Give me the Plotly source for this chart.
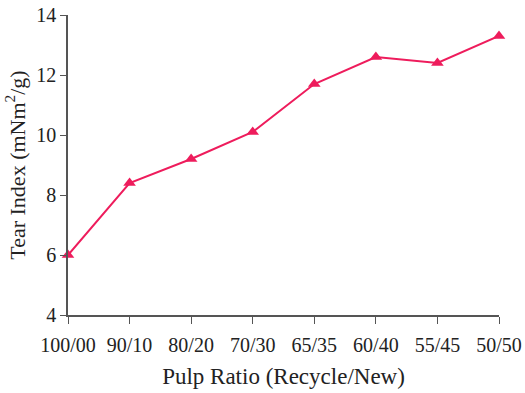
import plotly.graph_objects as go

ratios = ["100/00", "90/10", "80/20", "70/30", "65/35", "60/40", "55/45", "50/50"]
tear_index = [6.0, 8.4, 9.2, 10.1, 11.7, 12.6, 12.4, 13.3]

font_family = "Liberation Serif, Times New Roman, serif"
color = "#EE1C5C"

fig = go.Figure(go.Scatter(
    x=list(range(len(ratios))), y=tear_index,
    mode="lines+markers",
    line=dict(color=color, width=2),
    marker=dict(symbol="triangle-up", size=11, color=color),
    cliponaxis=False,
))

fig.update_layout(
    width=525, height=393,
    margin=dict(l=68, r=26, t=15, b=78),
    paper_bgcolor="white", plot_bgcolor="white",
    showlegend=False,
    font=dict(family=font_family, size=20, color="#222"),
    xaxis=dict(
        tickmode="array", tickvals=list(range(len(ratios))), ticktext=ratios,
        range=[0, len(ratios) - 1], automargin=False,
        showline=True, linecolor="#555", linewidth=1.5,
        ticks="outside", ticklen=7, tickcolor="#555",
        showgrid=False, zeroline=False,
        ticklabelstandoff=4,
        title=dict(text="Pulp Ratio (Recycle/New)", font=dict(size=23), standoff=13),
        tickfont=dict(size=20),
    ),
    yaxis=dict(
        range=[4, 14], dtick=2, automargin=False,
        showline=True, linecolor="#555", linewidth=1.5,
        ticks="outside", ticklen=6, tickcolor="#555",
        showgrid=False, zeroline=False,
        title=dict(text="Tear Index (mNm<sup>2</sup>/g)", font=dict(size=22), standoff=5),
        tickfont=dict(size=20),
    ),
)

fig.write_html("out.html")
